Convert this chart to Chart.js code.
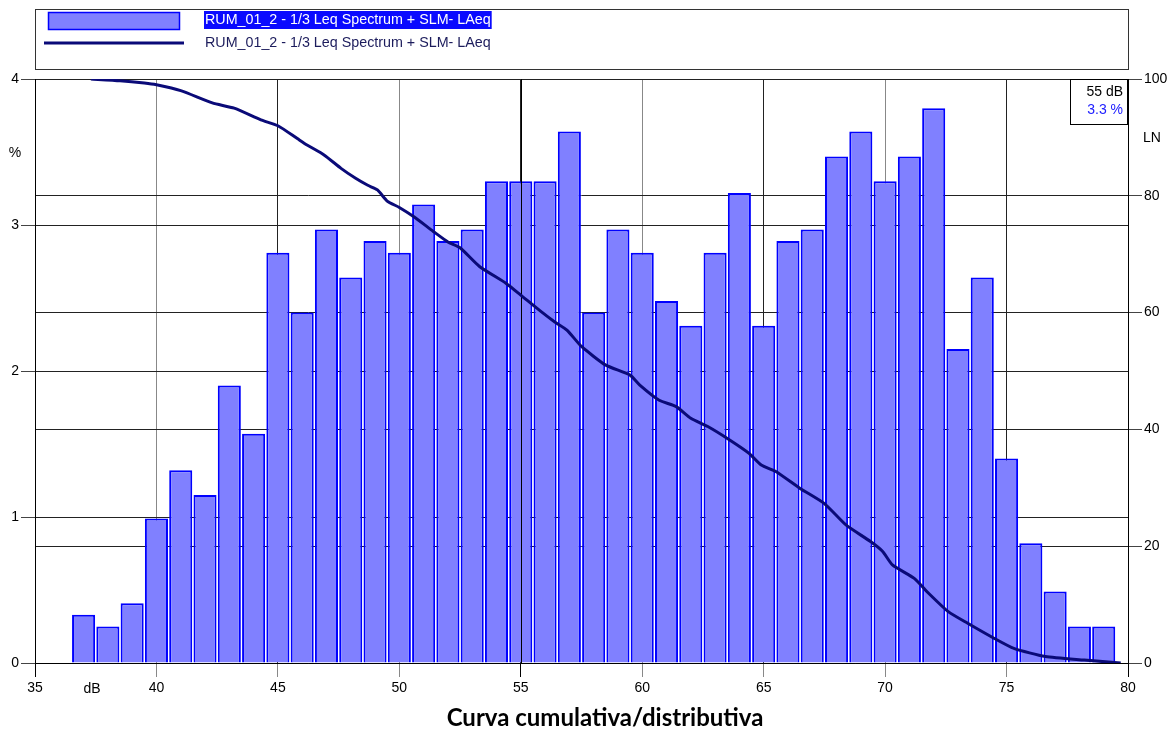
<!DOCTYPE html>
<html>
<head>
<meta charset="utf-8">
<script src="https://cdn.jsdelivr.net/npm/chart.js@4/dist/chart.umd.min.js"></script>
<style>
  html, body { margin: 0; padding: 0; background: #ffffff; }
  #wrap { width: 1175px; height: 733px; }
</style>
</head>
<body>
<div id="wrap"><canvas id="chart" width="1175" height="733"></canvas></div>
<script>
// Level classes (dB, 1 dB wide) and share of time in each class (%)
const levels = [37, 38, 39, 40, 41, 42, 43, 44, 45, 46, 47, 48, 49, 50, 51, 52, 53, 54, 55, 56, 57, 58,
                59, 60, 61, 62, 63, 64, 65, 66, 67, 68, 69, 70, 71, 72, 73, 74, 75, 76, 77, 78, 79];
const percent = [0.33, 0.25, 0.41, 0.99, 1.32, 1.15, 1.90, 1.57, 2.81, 2.40, 2.97, 2.64, 2.89, 2.81, 3.14,
                 2.89, 2.97, 3.30, 3.30, 3.30, 3.64, 2.40, 2.97, 2.81, 2.48, 2.31, 2.81, 3.22, 2.31, 2.89,
                 2.97, 3.47, 3.64, 3.30, 3.47, 3.80, 2.15, 2.64, 1.40, 0.82, 0.49, 0.25, 0.25];

// Cumulative curve: level (dB) and percentage of time exceeded (LN)
const lnLevels = [37.3, 38.5, 39.5, 40.0, 41.0, 42.3, 43.2, 44.3, 45.0, 45.8, 46.2, 46.9, 47.6, 48.2, 48.7,
                  49.1, 49.5, 50.0, 50.6, 51.4, 52.0, 52.5, 53.3, 54.4, 55.0, 55.8, 56.4, 56.9, 57.5, 58.5,
                  59.5, 59.9, 60.7, 61.4, 62.0, 62.7, 63.6, 64.4, 64.9, 65.5, 66.5, 67.5, 68.4, 69.4, 69.9,
                  70.3, 71.2, 71.8, 72.6, 73.4, 74.5, 75.3, 76.6, 78.2, 79.7];
const lnValues = [100, 99.7, 99.3, 99.0, 98.0, 95.9, 95.0, 93.0, 92.0, 89.8, 88.7, 87.0, 84.7, 83.0, 81.8,
                  81.0, 79.1, 78.0, 76.4, 73.9, 72.1, 71.1, 67.9, 65.0, 63.0, 60.3, 58.4, 57.0, 54.2, 51.0,
                  49.3, 47.6, 45.0, 43.9, 41.9, 40.5, 38.2, 35.9, 33.9, 32.8, 29.9, 27.3, 23.6, 20.8, 19.1,
                  16.8, 14.5, 11.9, 8.8, 6.8, 4.2, 2.5, 1.1, 0.5, 0.0];

// Axis ranges and ticks
const xRange = [35, 80];
const xStep = 5;
const pctRange = [0, 4];
const lnRange = [0, 100];
const lnStep = 20;

// Cursor position and series name
const cursorLevel = 55;
const seriesName = 'RUM_01_2 - 1/3 Leq Spectrum + SLM- LAeq';
const chartTitle = 'Curva cumulativa/distributiva';

const FONT = '"Liberation Sans", Arial, sans-serif';
const BAR_FILL = '#8080ff';
const BAR_EDGE = '#0000ff';
const CURVE = '#0a0a78';

const cursorPct = percent[levels.indexOf(cursorLevel)];

const overlay = {
  id: 'overlay',
  afterDatasetDraw(chart, args) {
    if (args.index !== 1) return;
    // cursor line across the bars
    const { ctx, chartArea, scales } = chart;
    const x = Math.round(scales.x.getPixelForValue(cursorLevel)) + 0.5;
    ctx.save();
    ctx.strokeStyle = '#000000';
    ctx.lineWidth = 1;
    ctx.beginPath();
    ctx.moveTo(x, chartArea.top);
    ctx.lineTo(x, chartArea.bottom);
    ctx.stroke();
    ctx.restore();
  },
  afterDraw(chart) {
    const { ctx, chartArea, scales } = chart;
    ctx.save();

    // legend frame
    ctx.strokeStyle = '#333333';
    ctx.lineWidth = 1;
    ctx.strokeRect(chartArea.left + 0.5, 9.5, chartArea.right - chartArea.left, 60);

    // bar swatch
    ctx.fillStyle = BAR_FILL;
    ctx.fillRect(48, 12, 132, 18);
    ctx.strokeStyle = BAR_EDGE;
    ctx.lineWidth = 1.5;
    ctx.strokeRect(48.5, 12.5, 131, 17);

    // curve swatch
    ctx.strokeStyle = CURVE;
    ctx.lineWidth = 3;
    ctx.beginPath();
    ctx.moveTo(44, 43);
    ctx.lineTo(184, 43);
    ctx.stroke();

    // legend labels
    ctx.font = '14.3px ' + FONT;
    ctx.textBaseline = 'middle';
    ctx.textAlign = 'left';
    const tw = ctx.measureText(seriesName).width;
    ctx.fillStyle = '#0a0aff';
    ctx.fillRect(204, 11, tw + 2, 18);
    ctx.fillStyle = '#ffffff';
    ctx.fillText(seriesName, 205, 20);
    ctx.fillStyle = '#1c1c5c';
    ctx.fillText(seriesName, 205, 43);

    // cursor readout box
    const bx = chartArea.right - 58;
    ctx.fillStyle = '#ffffff';
    ctx.fillRect(bx, chartArea.top, 58, 45);
    ctx.strokeStyle = '#000000';
    ctx.lineWidth = 1;
    ctx.strokeRect(bx + 0.5, chartArea.top + 0.5, 57, 45);
    ctx.font = '14px ' + FONT;
    ctx.textAlign = 'right';
    ctx.fillStyle = '#000000';
    ctx.fillText(cursorLevel + ' dB', chartArea.right - 5, chartArea.top + 13);
    ctx.fillStyle = '#2020ff';
    ctx.fillText(cursorPct.toFixed(1) + ' %', chartArea.right - 5, chartArea.top + 31);

    // axis units
    ctx.fillStyle = '#000000';
    ctx.font = '14px ' + FONT;
    ctx.textAlign = 'center';
    ctx.fillText('%', 15, 153);
    ctx.fillText('LN', 1152, 138);
    ctx.fillText('dB', scales.x.getPixelForValue(37.35), 689);

    // title
    ctx.font = 'bold 24px Lato, "Open Sans", sans-serif';
    ctx.fillText(chartTitle, 605, 718);

    ctx.restore();
  }
};

new Chart(document.getElementById('chart'), {
  type: 'bar',
  data: {
    datasets: [
      {
        type: 'line',
        label: seriesName,
        data: lnLevels.map((l, i) => ({ x: l, y: lnValues[i] })),
        yAxisID: 'yR',
        borderColor: CURVE,
        borderWidth: 3,
        pointRadius: 0,
        tension: 0.2,
        fill: false,
        order: 0
      },
      {
        type: 'bar',
        label: seriesName,
        data: levels.map((l, i) => ({ x: l, y: percent[i] })),
        yAxisID: 'y',
        backgroundColor: BAR_FILL,
        borderColor: BAR_EDGE,
        borderWidth: 2,
        barPercentage: 0.95,
        categoryPercentage: 1,
        order: 1
      }
    ]
  },
  options: {
    responsive: false,
    animation: false,
    layout: { padding: { top: 79, left: 0, right: 0, bottom: 0 } },
    plugins: {
      legend: { display: false },
      tooltip: { enabled: false },
      title: { display: false }
    },
    scales: {
      x: {
        type: 'linear',
        min: xRange[0], max: xRange[1],
        offset: false,
        afterFit(s) { s.height = 70; },
        grid: {
          offset: false,
          color: (c) => (c.tick && c.tick.value % 10 === 0 && c.tick.value !== xRange[0] && c.tick.value !== xRange[1]) ? '#888888' : '#222222',
          tickColor: (c) => (c.tick && (c.tick.value === xRange[0] || c.tick.value === xRange[1] || c.tick.value === cursorLevel)) ? '#000000' : '#888888',
          tickLength: 14,
          lineWidth: 1
        },
        border: { display: true, color: '#000000', width: 1 },
        ticks: { stepSize: xStep, color: '#000000', font: { family: FONT, size: 14 }, padding: 3, maxRotation: 0 }
      },
      y: {
        position: 'left',
        min: pctRange[0], max: pctRange[1],
        afterFit(s) { s.width = 35; },
        grid: { color: '#222222', tickColor: '#444444', tickLength: 14, lineWidth: 1 },
        border: { display: true, color: '#000000', width: 1 },
        ticks: { stepSize: 1, color: '#000000', font: { family: FONT, size: 14 }, padding: 2 }
      },
      yR: {
        position: 'right',
        min: lnRange[0], max: lnRange[1],
        afterFit(s) { s.width = 47; },
        grid: { color: '#222222', tickColor: '#444444', tickLength: 14, lineWidth: 1 },
        border: { display: true, color: '#000000', width: 1 },
        ticks: { stepSize: lnStep, color: '#000000', font: { family: FONT, size: 14 }, padding: 2 }
      }
    }
  },
  plugins: [overlay]
});
</script>
</body>
</html>
